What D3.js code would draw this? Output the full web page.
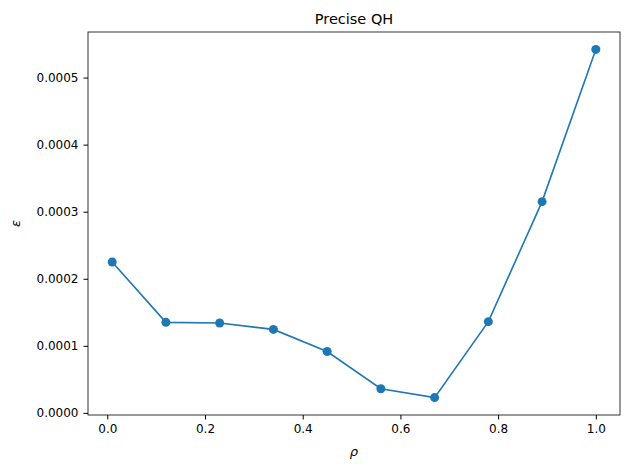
<!DOCTYPE html>
<html>
<head>
<meta charset="utf-8">
<script src="https://cdn.jsdelivr.net/npm/d3@7"></script>
<style>
body { margin: 0; background: #fff; }
text { font-family: "DejaVu Sans", sans-serif; fill: #000; }
</style>
</head>
<body>
<svg id="chart" width="630" height="470"></svg>
<script>
// rho values and errors
const rho = [0.01, 0.12, 0.23, 0.34, 0.45, 0.56, 0.67, 0.78, 0.89, 1.0];
const eps = [0.000225, 0.000135, 0.000134, 0.0001245, 0.0000915, 0.0000360, 0.0000228, 0.0001360, 0.000315, 0.000542];
const xTicks = [0.0, 0.2, 0.4, 0.6, 0.8, 1.0];
const yTicks = [0, 0.0001, 0.0002, 0.0003, 0.0004, 0.0005];

const plotLeft = 88, plotRight = 620, plotTop = 32, plotBottom = 415;
const svg = d3.select("#chart");

// matplotlib style 5% margins
const pad = (lo, hi) => { const m = (hi - lo) * 0.05; return [lo - m, hi + m]; };
const x = d3.scaleLinear().domain(pad(d3.min(rho), d3.max(rho))).range([plotLeft, plotRight]);
const y = d3.scaleLinear().domain(pad(d3.min(eps), d3.max(eps))).range([plotBottom, plotTop]);

svg.append("g").attr("transform", `translate(0,${plotBottom})`)
  .call(d3.axisBottom(x).tickValues(xTicks).tickFormat(d3.format(".1f")).tickSizeOuter(0).tickSize(4.5).tickPadding(5))
  .call(g => g.selectAll("text").style("font-size", "12px"));
svg.append("g").attr("transform", `translate(${plotLeft},0)`)
  .call(d3.axisLeft(y).tickValues(yTicks).tickFormat(d3.format(".4f")).tickSizeOuter(0).tickSize(4.5).tickPadding(5))
  .call(g => g.selectAll("text").style("font-size", "12px"));
svg.selectAll(".domain").remove();

svg.append("rect").attr("x", plotLeft).attr("y", plotTop)
  .attr("width", plotRight - plotLeft).attr("height", plotBottom - plotTop)
  .attr("fill", "none").attr("stroke", "#000").attr("stroke-width", 0.8);

const line = d3.line().x((d, i) => x(rho[i])).y(d => y(d));
svg.append("path").datum(eps).attr("d", line)
  .attr("fill", "none").attr("stroke", "#1f77b4").attr("stroke-width", 1.6);
svg.selectAll("circle.pt").data(eps).join("circle")
  .attr("cx", (d, i) => x(rho[i])).attr("cy", d => y(d)).attr("r", 4.5)
  .attr("fill", "#1f77b4");

svg.append("text").attr("x", (plotLeft + plotRight) / 2).attr("y", 24)
  .attr("text-anchor", "middle").style("font-size", "14.5px").text("Precise QH");
svg.append("text").attr("x", (plotLeft + plotRight) / 2).attr("y", 456)
  .attr("text-anchor", "middle").style("font-size", "13px").style("font-style", "italic").text("ρ");
svg.append("text").attr("transform", `translate(20,${(plotTop + plotBottom) / 2}) rotate(-90)`)
  .attr("text-anchor", "middle").style("font-size", "13px").style("font-style", "italic").text("ε");
</script>
</body>
</html>
